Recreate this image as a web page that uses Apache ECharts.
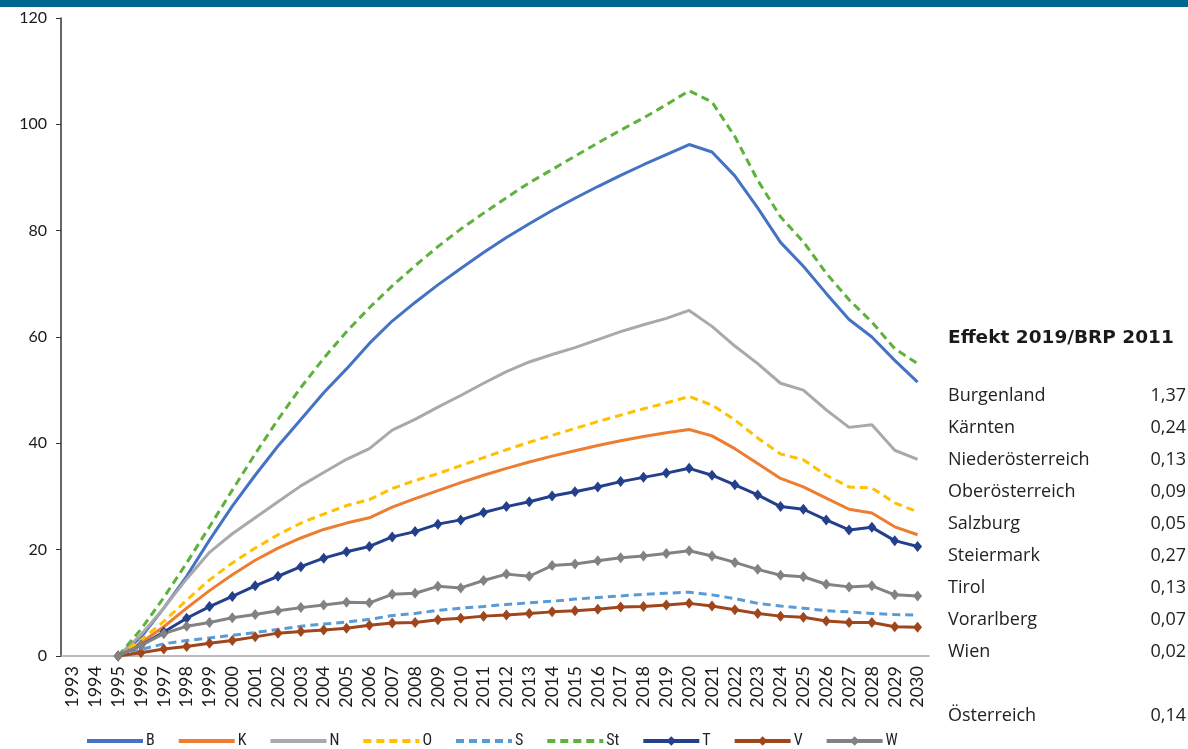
<!DOCTYPE html>
<html>
<head>
<meta charset="utf-8">
<script src="https://cdn.jsdelivr.net/npm/echarts@6/dist/echarts.min.js"></script>
<style>
html,body{margin:0;padding:0;background:#fff;}
#c{width:1188px;height:749px;}
</style>
</head>
<body>
<div id="c"></div>
<script>
const years = ['1993','1994','1995','1996','1997','1998','1999','2000','2001','2002','2003','2004','2005','2006','2007','2008','2009','2010','2011','2012','2013','2014','2015','2016','2017','2018','2019','2020','2021','2022','2023','2024','2025','2026','2027','2028','2029','2030'];
const B  = [null,null,0,3.5,9,15,21.8,28.2,34,39.5,44.5,49.5,54,58.8,63,66.5,69.8,72.9,75.9,78.7,81.3,83.8,86.1,88.3,90.4,92.4,94.3,96.2,94.8,90.3,84.3,77.8,73.3,68.2,63.3,60,55.6,51.5];
const K  = [null,null,0,2.5,5.5,9,12.3,15.3,18,20.3,22.2,23.8,25,26,28,29.6,31.1,32.6,34,35.3,36.5,37.6,38.6,39.6,40.5,41.3,42,42.6,41.4,39,36.2,33.4,31.8,29.7,27.6,26.9,24.3,22.8];
const N  = [null,null,0,4,9,14.5,19.5,23,26,29,32,34.5,37,39,42.5,44.5,46.8,49,51.3,53.5,55.3,56.7,58,59.5,61,62.3,63.5,65,62,58.3,55,51.3,50,46.3,43,43.5,38.7,37];
const O  = [null,null,0,3,6.5,10.5,14.3,17.5,20.3,22.8,25,26.7,28.3,29.4,31.5,33,34.3,35.8,37.3,38.8,40.2,41.5,42.8,44.1,45.3,46.5,47.6,48.8,47.2,44.4,41,38,36.9,34,31.8,31.6,28.8,27.1];
const S  = [null,null,0,1.2,2.3,2.9,3.4,3.9,4.4,5,5.6,6,6.4,6.9,7.6,8,8.6,9,9.3,9.7,10,10.3,10.7,11,11.3,11.6,11.8,12,11.5,10.8,9.9,9.4,9,8.5,8.3,8,7.8,7.7];
const St = [null,null,0,5,11,17.5,24.3,31.2,38,44.5,50.5,56,61,65.5,69.6,73.4,77,80.3,83.3,86.2,89,91.5,94,96.5,98.9,101.2,103.7,106.3,104.2,97.7,89.5,82.6,77.9,72,67,62.8,57.8,55];
const T  = [null,null,0,2,4.5,7.1,9.3,11.2,13.2,15,16.8,18.4,19.6,20.6,22.4,23.4,24.8,25.6,27,28.1,29,30.1,30.9,31.8,32.8,33.6,34.4,35.3,34,32.2,30.3,28.1,27.6,25.6,23.7,24.2,21.7,20.6];
const V  = [null,null,0,0.6,1.3,1.8,2.4,2.9,3.6,4.3,4.6,4.9,5.2,5.8,6.2,6.3,6.8,7.1,7.5,7.7,8,8.3,8.5,8.8,9.2,9.3,9.6,9.9,9.4,8.7,8,7.5,7.3,6.6,6.3,6.3,5.5,5.4];
const W  = [null,null,0,2,4.2,5.6,6.3,7.2,7.8,8.5,9.1,9.6,10.1,10,11.6,11.8,13.1,12.8,14.2,15.4,15,17,17.3,17.9,18.5,18.8,19.3,19.8,18.8,17.6,16.3,15.2,14.9,13.5,13,13.2,11.5,11.3];

const panelTitle = 'Effekt 2019/BRP 2011';
const regions = ['Burgenland','Kärnten','Niederösterreich','Oberösterreich','Salzburg','Steiermark','Tirol','Vorarlberg','Wien','','Österreich'];
const effects = ['1,37','0,24','0,13','0,09','0,05','0,27','0,13','0,07','0,02','','0,14'];

const chart = echarts.init(document.getElementById('c'), null, {renderer:'canvas'});

function ln(name, data, color, opts) {
  opts = opts || {};
  return {
    name: name, type: 'line', data: data,
    smooth: false, connectNulls: false,
    symbol: opts.marker ? 'diamond' : 'none',
    symbolSize: opts.marker ? [9, 11] : 0,
    showSymbol: !!opts.marker,
    lineStyle: {color: color, width: 3, type: opts.dash ? [8, 5] : 'solid'},
    itemStyle: {color: color},
    emphasis: {disabled: true},
    animation: false
  };
}

const graphics = [
  {type:'rect', shape:{x:0, y:0, width:1188, height:7}, style:{fill:'#006890'}},
  {type:'text', x:948, y:338, style:{text:panelTitle, font:'bold 18.5px "DejaVu Sans"', fill:'#1a1a1a', verticalAlign:'middle'}}
];
regions.forEach(function(r, i){
  if (!r) return;
  const y = 396 + i * 32;
  graphics.push({type:'text', x:948, y:y, style:{text:r, font:'18px "Open Sans"', fill:'#222', verticalAlign:'middle'}});
  graphics.push({type:'text', x:1186, y:y, style:{text:effects[i], font:'18px "Open Sans"', fill:'#222', align:'right', verticalAlign:'middle'}});
});

const legendNames = ['B','K','N','O','S','St','T','V','W'];
const markerSeries = {T:1, V:1, W:1};

chart.setOption({
  animation: false,
  backgroundColor: '#fff',
  grid: {left: 61, right: 259, top: 18, bottom: 93, containLabel: false},
  xAxis: {
    type: 'category', data: years, boundaryGap: true,
    axisLine: {show: true, lineStyle: {color: '#a6a6a6', width: 1.5}},
    axisTick: {show: false},
    axisLabel: {rotate: 90, interval: 0, fontFamily: 'Lato', fontSize: 18, color: '#1a1a1a', margin: 10}
  },
  yAxis: {
    type: 'value', min: 0, max: 120, interval: 20,
    axisLine: {show: true, lineStyle: {color: '#333', width: 1.5}},
    axisTick: {show: true, inside: false, length: 5, lineStyle: {color: '#333'}},
    splitLine: {show: false},
    axisLabel: {fontFamily: 'Lato', fontSize: 16, color: '#1a1a1a', margin: 14}
  },
  legend: {
    top: 728, left: 80,
    itemWidth: 56, itemHeight: 12, itemGap: 22,
    lineStyle: {width: 4},
    textStyle: {fontFamily: 'Liberation Sans Narrow, Roboto Condensed, Liberation Sans', fontSize: 16, color: '#222', padding: [0,0,0,-2]},
    data: legendNames.map(function(n){
      return markerSeries[n] ? {name: n} : {name: n, itemStyle: {opacity: 0}};
    })
  },
  series: [
    ln('B', B, '#4472C4'),
    ln('K', K, '#ED7D31'),
    ln('N', N, '#A9A9A9'),
    ln('O', O, '#FFC000', {dash:true}),
    ln('S', S, '#5B9BD5', {dash:true}),
    ln('St', St, '#5DB13C', {dash:true}),
    ln('T', T, '#24408C', {marker:true}),
    ln('V', V, '#A0461C', {marker:true}),
    ln('W', W, '#828282', {marker:true})
  ],
  graphic: graphics
});
</script>
</body>
</html>
